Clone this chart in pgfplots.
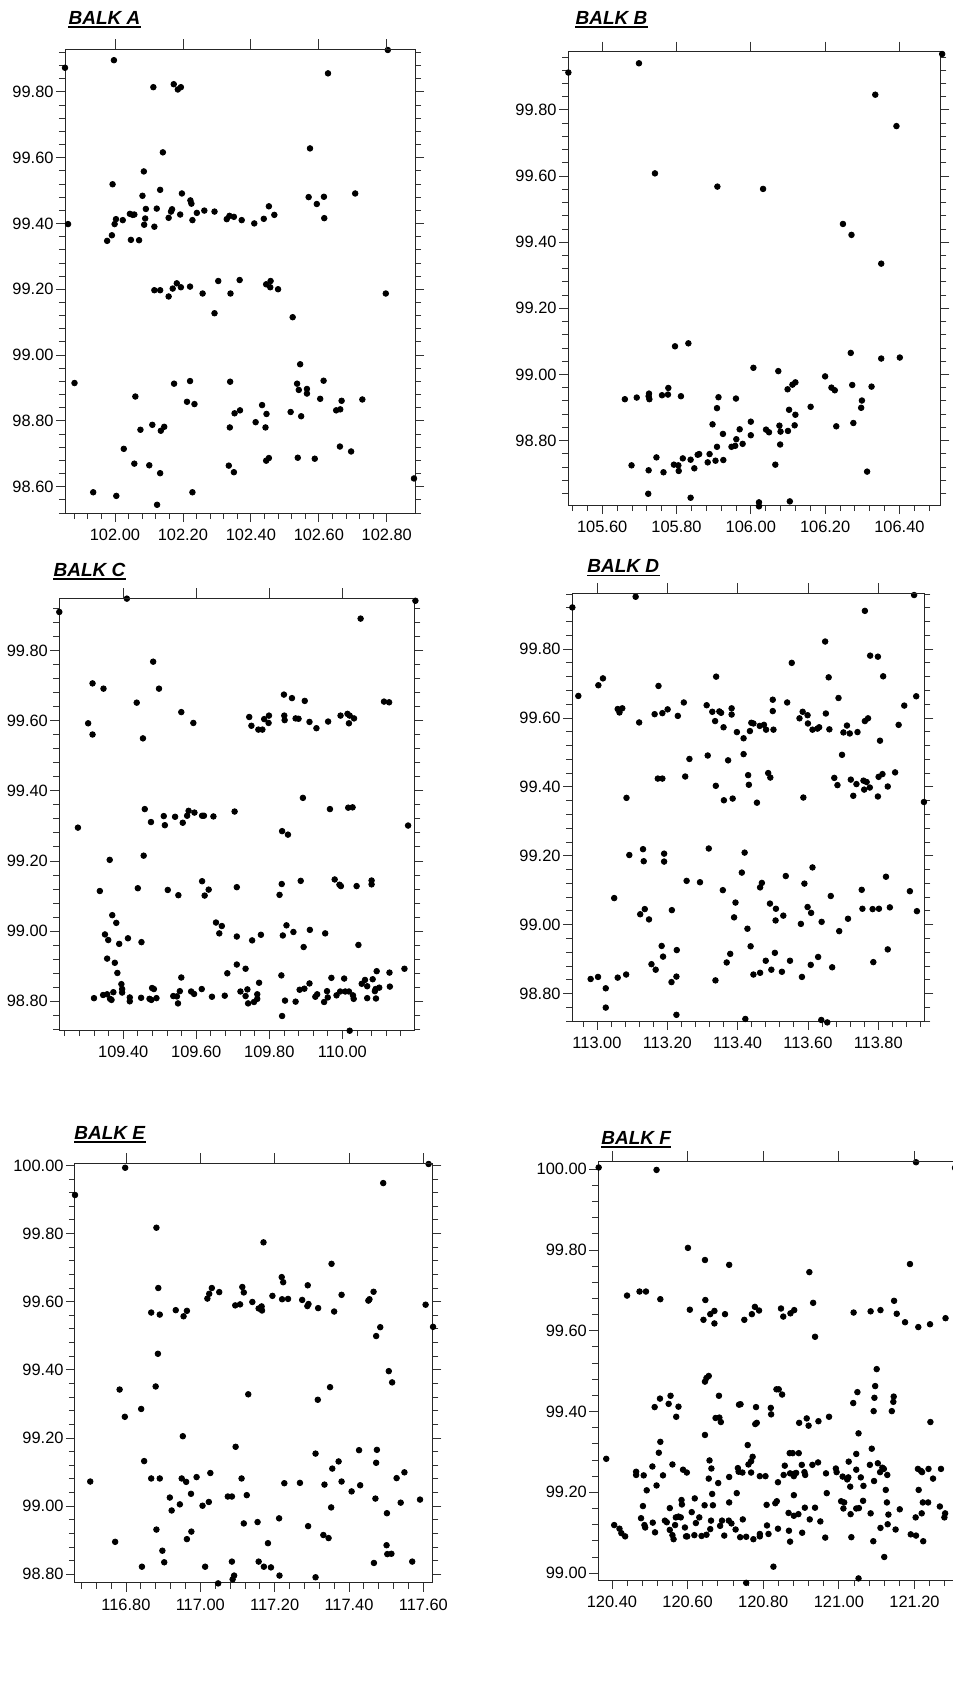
\documentclass[border=0pt]{standalone}
\usepackage{pgfplots}
\pgfplotsset{compat=1.18}
\usepackage{fontspec}
\setmainfont{Liberation Sans}
\pgfplotsset{
  balk/.style={scale only axis, anchor=north west, clip=false,
    tick align=outside, xtick pos=left, ytick pos=both,
    xtick distance=0.2, ytick distance=0.2, minor tick num=4,
    major tick length=4.5pt, minor tick length=3pt,
    tick style={black!80, line width=0.4pt},
    axis line style={black!85, line width=0.5pt},
    ticklabel style={font=\fontsize{8.2}{9}\selectfont},
    yticklabel style={xshift=2.3pt},
    /pgf/number format/fixed, /pgf/number format/fixed zerofill,
    /pgf/number format/precision=2, /pgf/number format/assume math mode=true,
    /pgf/number format/1000 sep={}},
  topt/.style={scale only axis, anchor=north west,
    axis x line*=top, axis y line=none, xtick distance=0.2, minor tick num=0,
    tick align=outside, major tick length=5pt, xticklabels={},
    tick style={black!80, line width=0.4pt}, axis line style={black!85, line width=0.5pt}},
  dots/.style={only marks, mark=*, mark size=1.4pt, black, mark options={fill=black, draw=black}}
}
\newcommand{\balktitle}[3]{\node[anchor=base west, inner sep=0pt, font=\fontsize{9.5}{11}\selectfont\bfseries\itshape] (#1) at (#2) {#3};
  \draw[line width=0.8pt] ([yshift=-1.4pt]#1.base west) -- ([yshift=-1.4pt]#1.base east);}
\begin{document}
\begin{tikzpicture}
\useasboundingbox (0,0) rectangle (476.5pt,-844pt);
% ---------------- BALK A
\balktitle{tA}{34.15pt,-12pt}{BALK A}
\begin{axis}[balk, at={(32.5pt,-24.5pt)}, width=175pt, height=232pt,
  xmin=101.853, xmax=102.883, ymin=98.52, ymax=99.93]
\addplot[dots] coordinates {
(101.853,99.873)(101.997,99.896)(102.803,99.927)(101.862,99.398)(102.113,99.814)(102.173,99.823)
(102.185,99.807)(102.194,99.814)(102.627,99.856)(102.574,99.628)(102.141,99.616)(102.085,99.558)
(101.993,99.519)(102.133,99.502)(102.081,99.484)(102.197,99.491)(102.222,99.470)(102.225,99.460)
(102.123,99.445)(102.091,99.444)(102.168,99.443)(102.165,99.436)(102.192,99.427)(102.241,99.432)
(102.263,99.439)(102.293,99.436)(102.158,99.417)(102.228,99.410)(102.044,99.429)(102.052,99.426)
(102.057,99.427)(102.003,99.413)(102.023,99.410)(101.999,99.398)(102.089,99.415)(102.086,99.396)
(102.116,99.390)(101.991,99.364)(101.977,99.347)(102.047,99.350)(102.071,99.349)(102.329,99.413)
(102.337,99.423)(102.350,99.420)(102.373,99.410)(102.410,99.400)(102.438,99.414)(102.453,99.452)
(102.469,99.426)(102.570,99.480)(102.615,99.481)(102.594,99.459)(102.616,99.416)(102.707,99.491)
(102.116,99.197)(102.133,99.197)(102.158,99.178)(102.170,99.202)(102.182,99.218)(102.194,99.206)
(102.221,99.208)(102.258,99.187)(102.304,99.225)(102.293,99.127)(102.340,99.187)(102.367,99.228)
(102.445,99.215)(102.458,99.225)(102.457,99.206)(102.480,99.200)(102.523,99.115)(102.797,99.187)
(101.881,98.915)(102.174,98.913)(102.221,98.921)(102.339,98.919)(102.545,98.972)(102.536,98.913)
(102.541,98.894)(102.565,98.897)(102.565,98.883)(102.614,98.922)(102.604,98.867)(102.667,98.861)
(102.728,98.865)(102.060,98.874)(102.212,98.858)(102.234,98.851)(102.368,98.832)(102.352,98.823)
(102.433,98.848)(102.446,98.821)(102.517,98.827)(102.548,98.814)(102.651,98.832)(102.663,98.835)
(102.075,98.773)(102.110,98.788)(102.135,98.770)(102.145,98.782)(102.338,98.780)(102.414,98.796)
(102.443,98.780)(102.026,98.715)(102.662,98.722)(102.695,98.707)(102.057,98.670)(102.101,98.665)
(102.133,98.641)(102.335,98.664)(102.350,98.644)(102.445,98.679)(102.453,98.687)(102.538,98.688)
(102.588,98.685)(102.880,98.625)(101.936,98.583)(102.004,98.572)(102.228,98.583)(102.124,98.545)
};
\end{axis}
\begin{axis}[topt, at={(32.5pt,-24.5pt)}, width=175pt, height=232pt,
  xmin=101.853, xmax=102.883, ymin=98.52, ymax=99.93]
\end{axis}
% ---------------- BALK B
\balktitle{tB}{287.65pt,-12pt}{BALK B}
\begin{axis}[balk, at={(284pt,-25.85pt)}, width=186.15pt, height=226.65pt,
  xmin=105.508, xmax=106.51, ymin=98.605, ymax=99.976]
\addplot[dots] coordinates {
(105.509,99.913)(105.699,99.941)(106.515,99.969)(106.335,99.846)(106.392,99.751)(105.742,99.608)
(105.910,99.568)(106.033,99.561)(106.248,99.455)(106.271,99.422)(106.351,99.335)(105.796,99.085)
(105.832,99.094)(106.269,99.065)(106.351,99.048)(106.401,99.051)(106.007,99.020)(106.074,99.010)
(106.200,98.994)(106.217,98.960)(106.226,98.952)(106.273,98.968)(106.325,98.963)(106.099,98.955)
(106.112,98.969)(106.120,98.976)(105.661,98.925)(105.693,98.930)(105.726,98.942)(105.727,98.925)
(105.725,98.934)(105.761,98.937)(105.778,98.959)(105.777,98.939)(105.812,98.934)(105.913,98.931)
(105.909,98.898)(105.960,98.927)(106.161,98.902)(106.299,98.921)(106.297,98.899)(106.103,98.893)
(106.120,98.878)(105.897,98.849)(106.000,98.857)(106.077,98.845)(106.118,98.846)(106.230,98.843)
(106.276,98.853)(106.041,98.833)(106.049,98.825)(106.080,98.827)(106.100,98.829)(105.970,98.834)
(105.925,98.820)(106.000,98.816)(105.961,98.804)(105.909,98.781)(105.948,98.781)(105.958,98.784)
(105.978,98.790)(106.079,98.788)(105.857,98.757)(105.861,98.759)(105.889,98.759)(105.746,98.749)
(105.817,98.746)(105.838,98.742)(105.884,98.734)(105.905,98.739)(105.926,98.741)(105.679,98.725)
(105.793,98.727)(105.805,98.725)(105.725,98.710)(105.765,98.704)(105.806,98.708)(105.848,98.716)
(106.066,98.727)(106.313,98.706)(105.724,98.639)(105.838,98.627)(106.022,98.613)(106.022,98.601)
(106.105,98.616)
};
\end{axis}
\begin{axis}[topt, at={(284pt,-25.85pt)}, width=186.15pt, height=226.65pt,
  xmin=105.508, xmax=106.51, ymin=98.605, ymax=99.976]
\end{axis}
% ---------------- BALK C
\balktitle{tC}{26.65pt,-288pt}{BALK C}
\begin{axis}[balk, at={(29.65pt,-299.15pt)}, width=177.5pt, height=215.85pt,
  xmin=109.225, xmax=110.197, ymin=98.717, ymax=99.95]
\addplot[dots] coordinates {
(109.225,99.911)(109.410,99.949)(110.200,99.943)(110.050,99.892)(109.482,99.769)(109.316,99.707)
(109.346,99.692)(109.498,99.692)(109.437,99.652)(109.304,99.593)(109.316,99.561)(109.454,99.550)
(109.559,99.625)(109.592,99.594)(109.840,99.675)(109.862,99.665)(109.897,99.657)(110.114,99.655)
(110.128,99.653)(109.745,99.611)(109.751,99.586)(109.770,99.575)(109.781,99.575)(109.786,99.605)
(109.799,99.615)(109.798,99.594)(109.841,99.615)(109.842,99.602)(109.872,99.607)(109.880,99.606)
(109.910,99.597)(109.929,99.579)(109.961,99.598)(109.995,99.615)(110.014,99.620)(110.018,99.593)
(110.020,99.615)(110.032,99.607)(109.276,99.295)(109.459,99.348)(109.476,99.311)(109.511,99.328)
(109.514,99.302)(109.542,99.326)(109.563,99.309)(109.575,99.329)(109.579,99.343)(109.595,99.338)
(109.616,99.329)(109.621,99.329)(109.647,99.327)(109.705,99.341)(109.892,99.380)(109.966,99.348)
(110.016,99.352)(110.028,99.353)(109.835,99.285)(109.851,99.275)(110.180,99.301)(109.363,99.203)
(109.456,99.215)(109.336,99.114)(109.440,99.122)(109.522,99.117)(109.551,99.102)(109.616,99.142)
(109.623,99.101)(109.634,99.118)(109.711,99.125)(109.828,99.103)(109.834,99.134)(109.886,99.143)
(109.979,99.147)(109.992,99.132)(109.996,99.128)(110.039,99.128)(110.080,99.144)(110.080,99.133)
(109.370,99.045)(109.381,99.023)(109.350,98.990)(109.359,98.974)(109.389,98.963)(109.413,98.979)
(109.450,98.968)(109.654,99.024)(109.670,99.014)(109.663,98.993)(109.711,98.984)(109.753,98.973)
(109.777,98.989)(109.837,98.987)(109.847,99.016)(109.866,98.997)(109.911,99.003)(109.894,98.954)
(109.953,98.993)(110.044,98.960)(109.356,98.921)(109.377,98.909)(109.384,98.880)(109.685,98.879)
(109.711,98.904)(109.735,98.892)(109.833,98.873)(110.170,98.892)(109.395,98.848)(109.397,98.834)
(109.397,98.824)(109.373,98.825)(109.345,98.817)(109.356,98.819)(109.320,98.808)(109.364,98.806)
(109.368,98.803)(109.418,98.810)(109.418,98.799)(109.449,98.809)(109.472,98.806)(109.477,98.803)
(109.479,98.837)(109.484,98.834)(109.491,98.808)(109.537,98.814)(109.547,98.813)(109.550,98.793)
(109.555,98.828)(109.559,98.867)(109.586,98.827)(109.594,98.820)(109.615,98.834)(109.643,98.812)
(109.678,98.815)(109.721,98.827)(109.735,98.814)(109.740,98.833)(109.742,98.793)(109.758,98.797)
(109.767,98.819)(109.767,98.806)(109.772,98.852)(109.843,98.801)(109.835,98.757)(109.872,98.798)
(109.883,98.832)(109.896,98.835)(109.910,98.850)(109.926,98.812)(109.931,98.819)(109.950,98.797)
(109.958,98.828)(109.960,98.810)(109.970,98.866)(109.984,98.816)(109.994,98.827)(110.005,98.864)
(110.008,98.827)(110.018,98.827)(110.029,98.816)(110.031,98.806)(110.020,98.715)(110.053,98.849)
(110.062,98.860)(110.068,98.842)(110.068,98.808)(110.083,98.862)(110.089,98.828)(110.092,98.807)
(110.094,98.885)(110.091,98.834)(110.101,98.838)(110.129,98.881)(110.130,98.841)
};
\end{axis}
\begin{axis}[topt, at={(29.65pt,-299.15pt)}, width=177.5pt, height=215.85pt,
  xmin=109.225, xmax=110.197, ymin=98.717, ymax=99.95]
\end{axis}
% ---------------- BALK D
\balktitle{tD}{293.5pt,-286.3pt}{BALK D}
\begin{axis}[balk, at={(286pt,-296.65pt)}, width=176.15pt, height=213.85pt,
  xmin=112.929, xmax=113.931, ymin=98.72, ymax=99.962]
\addplot[dots] coordinates {
(112.930,99.921)(113.110,99.952)(113.902,99.957)(113.762,99.911)(113.649,99.822)(113.554,99.760)
(113.777,99.781)(113.799,99.778)(113.339,99.720)(113.659,99.718)(113.814,99.721)(113.004,99.695)
(113.017,99.715)(113.175,99.693)(112.947,99.664)(113.908,99.663)(113.500,99.653)(113.687,99.658)
(113.874,99.636)(113.059,99.626)(113.064,99.616)(113.072,99.628)(113.120,99.587)(113.164,99.611)
(113.186,99.614)(113.201,99.625)(113.230,99.606)(113.247,99.645)(113.312,99.637)(113.328,99.618)
(113.336,99.591)(113.348,99.619)(113.353,99.615)(113.360,99.573)(113.383,99.628)(113.383,99.610)
(113.398,99.559)(113.417,99.541)(113.417,99.495)(113.435,99.562)(113.439,99.586)(113.445,99.584)
(113.463,99.577)(113.475,99.580)(113.481,99.566)(113.500,99.620)(113.502,99.566)(113.541,99.645)
(113.576,99.599)(113.585,99.618)(113.599,99.608)(113.600,99.584)(113.613,99.566)(113.627,99.569)
(113.632,99.573)(113.651,99.613)(113.661,99.567)(113.701,99.558)(113.711,99.578)(113.719,99.555)
(113.741,99.559)(113.762,99.591)(113.771,99.599)(113.805,99.534)(113.858,99.580)(113.263,99.481)
(113.315,99.491)(113.373,99.477)(113.697,99.493)(113.173,99.424)(113.186,99.424)(113.251,99.430)
(113.338,99.403)(113.361,99.361)(113.386,99.366)(113.430,99.434)(113.432,99.406)(113.455,99.354)
(113.487,99.440)(113.493,99.427)(113.084,99.368)(113.587,99.369)(113.675,99.426)(113.684,99.405)
(113.722,99.421)(113.738,99.408)(113.729,99.374)(113.758,99.418)(113.760,99.392)(113.767,99.414)
(113.776,99.398)(113.799,99.372)(113.801,99.429)(113.812,99.437)(113.827,99.401)(113.848,99.442)
(113.930,99.356)(113.092,99.202)(113.131,99.219)(113.133,99.184)(113.191,99.206)(113.191,99.183)
(113.318,99.221)(113.420,99.209)(113.255,99.127)(113.293,99.123)(113.358,99.100)(113.412,99.151)
(113.469,99.121)(113.464,99.108)(113.537,99.141)(113.590,99.119)(113.613,99.166)(113.822,99.139)
(113.890,99.097)(113.753,99.101)(113.049,99.077)(113.123,99.030)(113.136,99.045)(113.148,99.015)
(113.213,99.042)(113.394,99.064)(113.390,99.021)(113.428,98.988)(113.492,99.061)(113.509,99.046)
(113.508,99.012)(113.530,99.026)(113.580,99.002)(113.599,99.051)(113.609,99.034)(113.639,99.008)
(113.665,99.083)(113.689,98.981)(113.714,99.017)(113.755,99.046)(113.784,99.045)(113.802,99.046)
(113.833,99.050)(113.910,99.039)(113.184,98.938)(113.188,98.907)(113.227,98.926)(113.155,98.885)
(113.167,98.869)(113.212,98.833)(113.226,98.849)(112.982,98.842)(113.003,98.848)(113.025,98.815)
(113.025,98.759)(113.059,98.846)(113.083,98.855)(113.226,98.738)(113.337,98.838)(113.369,98.890)
(113.379,98.915)(113.437,98.937)(113.445,98.855)(113.464,98.860)(113.480,98.895)(113.496,98.869)
(113.506,98.918)(113.526,98.863)(113.549,98.895)(113.583,98.848)(113.608,98.883)(113.629,98.906)
(113.669,98.876)(113.786,98.891)(113.827,98.928)(113.422,98.726)(113.638,98.723)(113.655,98.716)
};
\end{axis}
\begin{axis}[topt, at={(286pt,-296.65pt)}, width=176.15pt, height=213.85pt,
  xmin=112.929, xmax=113.931, ymin=98.72, ymax=99.962]
\end{axis}
% ---------------- BALK E
\balktitle{tE}{37pt,-569.6pt}{BALK E}
\begin{axis}[balk, at={(37.5pt,-581.65pt)}, width=178.65pt, height=209.7pt,
  xmin=116.663, xmax=117.624, ymin=98.775, ymax=100.006]
\addplot[dots] coordinates {
(116.663,99.913)(116.798,99.993)(117.614,100.004)(117.492,99.948)(116.882,99.817)(117.170,99.774)
(117.353,99.711)(116.887,99.640)(117.031,99.640)(117.051,99.628)(117.024,99.623)(117.019,99.609)
(117.113,99.643)(117.117,99.627)(117.094,99.589)(117.107,99.592)(117.140,99.599)(117.157,99.580)
(117.165,99.586)(117.166,99.574)(117.194,99.617)(117.219,99.672)(117.223,99.657)(117.220,99.607)
(117.236,99.608)(117.274,99.605)(117.289,99.648)(117.288,99.587)(117.291,99.593)(117.317,99.581)
(117.360,99.571)(117.380,99.620)(117.452,99.603)(117.455,99.607)(117.466,99.629)(117.606,99.591)
(116.868,99.568)(116.891,99.562)(116.934,99.575)(116.955,99.557)(116.964,99.573)(117.484,99.525)
(117.473,99.499)(117.626,99.526)(116.886,99.447)(117.507,99.396)(117.516,99.363)(116.783,99.342)
(116.880,99.351)(117.349,99.349)(117.129,99.328)(117.316,99.312)(116.841,99.285)(116.797,99.262)
(116.953,99.205)(117.095,99.174)(117.310,99.154)(117.427,99.164)(117.475,99.165)(117.473,99.127)
(116.849,99.132)(117.372,99.131)(117.355,99.110)(117.549,99.099)(116.704,99.072)(116.868,99.081)
(116.891,99.081)(116.950,99.081)(116.962,99.071)(116.990,99.085)(117.027,99.097)(117.111,99.081)
(117.226,99.067)(117.268,99.068)(117.334,99.063)(117.380,99.072)(117.430,99.061)(117.407,99.043)
(117.528,99.082)(116.918,99.025)(116.975,99.036)(116.945,99.005)(116.923,98.987)(117.006,99.001)
(117.023,99.012)(117.074,99.028)(117.085,99.028)(117.125,99.032)(117.471,99.022)(117.539,99.010)
(117.591,99.019)(117.352,98.996)(117.502,98.979)(116.882,98.931)(116.976,98.925)(116.964,98.903)
(117.117,98.949)(117.154,98.953)(117.212,98.964)(117.290,98.941)(117.331,98.915)(117.345,98.906)
(116.771,98.895)(116.898,98.869)(116.903,98.835)(117.182,98.891)(117.501,98.885)(117.503,98.859)
(117.514,98.860)(116.843,98.822)(117.013,98.822)(117.085,98.837)(117.157,98.837)(117.171,98.822)
(117.190,98.820)(117.467,98.833)(117.570,98.837)(117.091,98.796)(117.087,98.785)(117.048,98.773)
(117.213,98.796)(117.310,98.791)
};
\end{axis}
\begin{axis}[topt, at={(37.5pt,-581.65pt)}, width=178.65pt, height=209.7pt,
  xmin=116.663, xmax=117.624, ymin=98.775, ymax=100.006]
\end{axis}
% ---------------- BALK F
\balktitle{tF}{300.5pt,-572pt}{BALK F}
\begin{axis}[balk, at={(299.15pt,-580.5pt)}, width=179.85pt, height=209.5pt,
  xmin=120.364, xmax=121.315, ymin=98.983, ymax=100.02]
\addplot[dots] coordinates {
(120.365,100.004)(120.518,99.998)(121.204,100.017)(121.307,100.003)(120.601,99.805)(120.646,99.775)
(120.710,99.763)(120.922,99.745)(121.188,99.765)(120.440,99.687)(120.473,99.697)(120.490,99.697)
(120.528,99.678)(120.647,99.676)(120.932,99.669)(121.146,99.674)(120.606,99.652)(120.642,99.627)
(120.660,99.641)(120.671,99.649)(120.671,99.618)(120.699,99.641)(120.750,99.627)(120.770,99.641)
(120.778,99.659)(120.789,99.650)(120.847,99.655)(120.853,99.635)(120.872,99.643)(120.882,99.651)
(120.937,99.585)(121.039,99.645)(121.084,99.648)(121.110,99.651)(121.153,99.642)(121.175,99.621)
(121.210,99.609)(121.241,99.616)(121.282,99.631)
(120.646,99.474)(120.650,99.483)(120.656,99.488)(121.100,99.505)(121.096,99.463)(121.094,99.434)
(121.092,99.401)(121.049,99.448)(121.038,99.421)(120.835,99.455)(120.841,99.455)(120.850,99.442)
(120.683,99.439)(120.527,99.432)(120.555,99.439)(120.550,99.419)(120.513,99.411)(120.576,99.412)
(120.570,99.387)(120.736,99.417)(120.740,99.418)(120.781,99.411)(120.820,99.409)(120.821,99.393)
(121.145,99.437)(121.144,99.424)(121.140,99.401)(120.674,99.384)(120.684,99.385)(120.688,99.374)
(120.779,99.369)(120.783,99.372)(120.895,99.372)(120.915,99.383)(120.920,99.365)(120.946,99.376)
(120.974,99.387)(121.242,99.374)(120.646,99.342)(121.052,99.346)(120.528,99.325)
(120.385,99.283)(120.524,99.298)(120.507,99.264)(120.518,99.217)(120.535,99.242)(120.560,99.269)
(120.588,99.256)(120.598,99.249)(120.464,99.251)(120.464,99.243)(120.484,99.242)(120.492,99.205)
(120.482,99.166)(120.477,99.136)(120.488,99.113)(120.486,99.119)(120.406,99.119)(120.420,99.110)
(120.425,99.099)(120.435,99.091)(120.508,99.125)(120.514,99.101)(120.540,99.130)(120.545,99.126)
(120.553,99.161)(120.553,99.107)(120.560,99.094)(120.563,99.084)(120.567,99.119)(120.569,99.138)
(120.576,99.140)(120.582,99.138)(120.584,99.181)(120.585,99.170)(120.593,99.113)(120.596,99.091)
(120.599,99.091)(120.611,99.151)(120.619,99.185)(120.622,99.124)(120.618,99.094)(120.631,99.138)
(120.637,99.092)(120.645,99.168)(120.650,99.095)(120.658,99.279)(120.663,99.259)(120.656,99.234)
(120.665,99.196)(120.667,99.168)(120.662,99.130)(120.660,99.109)(120.686,99.117)(120.681,99.223)
(120.691,99.130)(120.697,99.093)(120.710,99.238)(120.710,99.175)(120.709,99.130)(120.716,99.123)
(120.727,99.108)(120.730,99.198)(120.733,99.260)(120.735,99.251)(120.739,99.089)(120.745,99.249)
(120.746,99.133)(120.755,99.090)(120.759,99.317)(120.761,99.269)(120.768,99.277)(120.772,99.288)
(120.768,99.249)(120.774,99.084)(120.791,99.240)(120.806,99.240)(120.791,99.091)(120.791,99.097)
(120.809,99.169)(120.810,99.118)(120.814,99.097)(120.827,99.016)(120.755,98.976)(120.832,99.173)
(120.836,99.178)(120.839,99.225)(120.839,99.110)(120.854,99.243)(120.857,99.266)(120.867,99.149)
(120.868,99.105)(120.871,99.247)(120.871,99.078)(120.870,99.297)(120.878,99.297)(120.881,99.193)
(120.881,99.240)(120.882,99.246)(120.881,99.142)(120.887,99.248)(120.894,99.297)(120.893,99.146)
(120.902,99.268)(120.909,99.250)(120.911,99.243)(120.903,99.100)(120.910,99.162)(120.923,99.133)
(120.930,99.268)(120.937,99.162)(120.945,99.274)(120.951,99.128)(120.964,99.088)(120.966,99.247)
(120.968,99.198)(120.992,99.259)(120.994,99.250)(121.006,99.178)(121.010,99.239)(121.014,99.175)
(121.012,99.160)(121.022,99.232)(121.026,99.276)(121.025,99.237)(121.030,99.214)(121.031,99.146)
(121.033,99.089)(121.046,99.295)(121.046,99.256)(121.046,99.160)(121.053,99.161)(121.058,99.237)
(121.065,99.216)(121.064,99.179)(121.052,98.987)(121.082,99.268)(121.087,99.308)(121.084,99.148)
(121.093,99.228)(121.091,99.079)(121.103,99.272)(121.109,99.250)(121.110,99.112)(121.115,99.261)
(121.119,99.258)(121.124,99.206)(121.127,99.175)(121.128,99.243)(121.129,99.121)(121.131,99.145)
(121.120,99.040)(121.150,99.108)(121.161,99.158)(121.190,99.096)(121.204,99.093)(121.203,99.138)
(121.211,99.206)(121.209,99.258)(121.217,99.253)(121.220,99.250)(121.219,99.148)(121.222,99.175)
(121.223,99.079)(121.236,99.175)(121.237,99.258)(121.249,99.234)(121.270,99.258)(121.267,99.165)
(121.279,99.138)(121.281,99.148)
};
\end{axis}
\begin{axis}[topt, at={(299.15pt,-580.5pt)}, width=179.85pt, height=209.5pt,
  xmin=120.364, xmax=121.315, ymin=98.983, ymax=100.02]
\end{axis}
\end{tikzpicture}
\end{document}
